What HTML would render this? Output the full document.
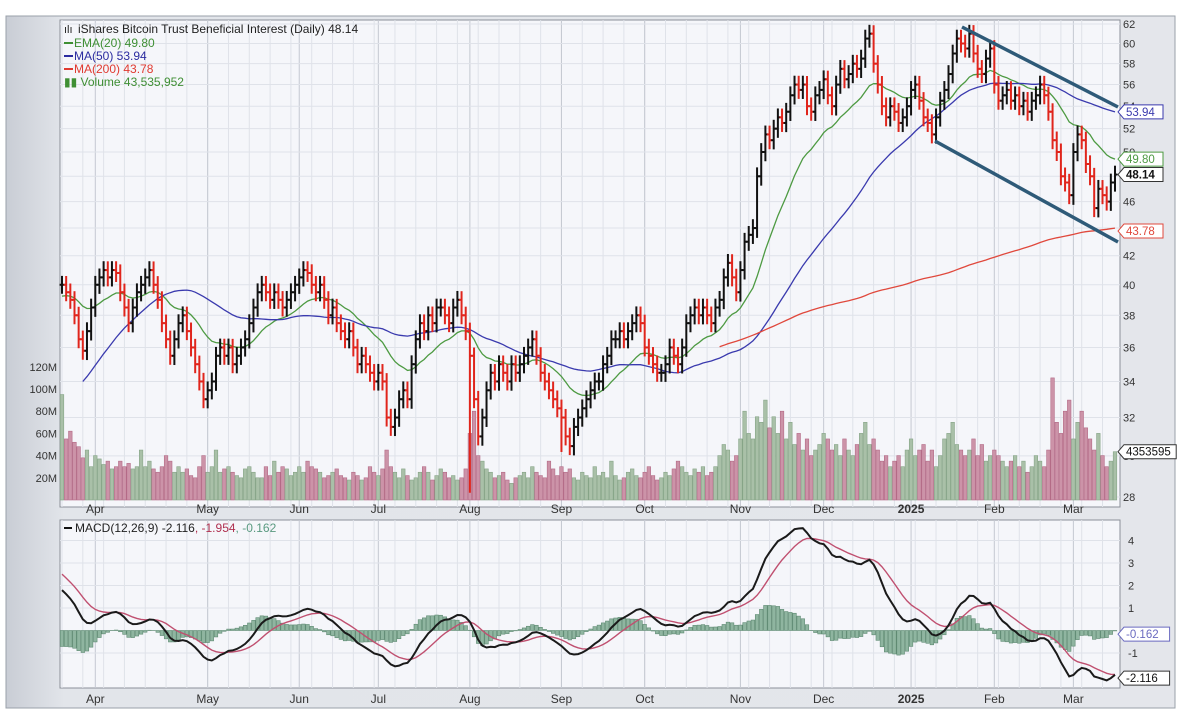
<!DOCTYPE html>
<html><head><meta charset="utf-8"><style>
html,body{margin:0;padding:0;background:#fff;}
svg{display:block;font-family:"Liberation Sans",sans-serif;}
</style></head><body>
<svg id="chart" width="1184" height="724" viewBox="0 0 1184 724" xmlns="http://www.w3.org/2000/svg">
<defs>
<linearGradient id="bg" x1="0" y1="0" x2="1" y2="0"><stop offset="0" stop-color="#c9cdd5"/><stop offset="0.05" stop-color="#e2e5ea"/><stop offset="1" stop-color="#e4e6eb"/></linearGradient>
</defs>
<rect x="6" y="16" width="1169" height="692" fill="url(#bg)" stroke="#9aa0aa"/>
<rect x="60" y="20" width="1060" height="487" fill="#f5f6fa" stroke="#8c9099"/>
<rect x="60" y="520" width="1060" height="168" fill="#f5f6fa" stroke="#8c9099"/>
<g id="grid"></g><g id="vol"></g><g id="lines"></g><g id="bars"></g><g id="macd"></g><g id="axes"></g>
<line x1="962" y1="27" x2="1118" y2="107" stroke="#2e5a78" stroke-width="3.5"/>
<line x1="935" y1="141" x2="1118" y2="242" stroke="#2e5a78" stroke-width="3.5"/>
<g font-size="12">
<text x="78" y="33" fill="#222">iShares Bitcoin Trust Beneficial Interest (Daily) 48.14</text>
<text x="64" y="33" fill="#222" font-size="11">ılı</text>
<rect x="64" y="42" width="9" height="2" fill="#3f8f34"/>
<text x="74" y="47" fill="#3f8f34">EMA(20) 49.80</text>
<rect x="64" y="55" width="9" height="2" fill="#2b2ba0"/>
<text x="74" y="60" fill="#2b2ba0">MA(50) 53.94</text>
<rect x="64" y="68" width="9" height="2" fill="#e03a30"/>
<text x="74" y="73" fill="#e03a30">MA(200) 43.78</text>
<text x="64" y="86" fill="#3f8f34">▮▮ Volume 43,535,952</text>
</g>
<g font-size="12">
<rect x="64" y="527" width="8" height="2" fill="#111"/>
<text x="75" y="532" fill="#222">MACD(12,26,9) -2.116<tspan fill="#b03050">, -1.954</tspan><tspan fill="#5a9a80">, -0.162</tspan></text>
</g>
</svg>
<script>
const priorCloses=[27,26,25,24,23,22.5,23,23.5,24,24.5,24.5,24,24.5,24,24.5,26,27,28,28.5,29,29.5,29,29.5,30,30.5,32,35,37,36.5,38,40,41,40.5,42,42.5,44,45,44.5,44,43,41,39.5,38,39.5,38,39.5,41,40.5];
const closes=[40,39.5,39,38,36.5,35.8,37,38.5,
40,40.5,41,40.5,41,40.8,39.5,38.5,37.5,38.5,39.5,40,40.5,41,40,39,37.5,36.5,35.5,36.5,37.5,38,37,36,35,34,33,
33.5,34,35.5,36,35.5,36,35,35.5,36,36.5,37.5,38.5,39.5,40,39.5,39,39.5,39,38.5,39,39.5,40,
40.5,41,40.8,40,39.5,40,39,38,38.5,37.5,37,36.5,37,36,35,35.5,35,34.5,34,
34.5,34,32,31.5,32,33,33.5,33,35,36.5,37.5,37,38,37.5,38.5,38.5,38,37.5,38.5,39,38,37,
35.5,33,31,32,33.5,34.5,34,35,34.5,34,35,34.5,35,35.5,36,36.5,35.5,34.5,34,33.5,33,32.5,
32,31,30.5,31.5,32,32.5,33,33.5,34,34,35,35.5,36.5,36.5,37,36.5,37,37.5,38,37.5,
36,35.5,35,34.5,34.5,35,36,35.5,35,36,37.5,38,38.5,38,38.5,38,37.5,38.5,39,40.5,41.5,40.5,39.5,
41,43,43.5,44,48,50,51.5,51,52,53,52.5,53.5,55,56,55.5,56,54,53.5,55,55.5,
56.5,55,54,56,57.5,56.5,57,58,57.5,58.5,60.5,61,58,56,54,53,54,53.5,52.5,53,54,
55.5,56,54.5,53,52.5,51.5,53,54.5,55.5,57,59,60.5,60,59.5,61,59,57.5,57,58.5,59.5,
56,54.5,55,55.5,54.5,55,54,54.5,53.5,54.5,55,56,55,53.5,51,50,48,47.5,46.5,
50,51.5,51,49,48,45.5,47,46.5,46,47.5,48.14];
const volumes=[95,55,62,52,48,38,45,30,
40,37,32,35,28,30,35,30,33,28,30,45,30,35,28,25,30,40,35,25,30,25,28,22,20,30,40,
25,30,45,25,28,30,25,22,20,28,30,25,20,20,30,22,35,25,30,28,22,25,
30,25,35,30,28,25,20,22,25,28,22,20,18,25,22,18,20,30,25,
22,28,45,30,25,20,28,22,18,20,25,30,25,18,22,28,25,20,22,18,20,28,
60,80,40,35,28,25,20,22,25,18,15,20,22,25,20,30,25,22,20,35,28,22,
30,25,28,20,18,25,22,20,30,22,25,20,35,22,18,20,25,28,22,20,
25,30,22,18,20,25,22,28,35,30,25,22,28,25,30,22,25,30,40,50,45,35,40,
55,80,60,55,75,70,90,65,75,60,80,55,70,50,60,45,55,40,45,50,
60,55,45,50,40,55,45,40,50,60,70,50,55,45,35,40,30,35,40,30,45,
55,40,45,50,35,45,30,40,55,60,70,50,45,40,45,55,40,50,35,40,
45,40,35,30,35,40,30,35,25,30,40,35,30,45,110,70,60,80,90,
55,70,80,65,55,45,60,40,30,35,43.5];
const monthLabels=["Apr","May","Jun","Jul","Aug","Sep","Oct","Nov","Dec","2025","Feb","Mar"];
const monthStartIdx=[8,35,57,76,98,120,140,163,183,204,224,243];
const spikeLowIdx=[98,120];
const spikeLowVal=[28.2,30.2];
const priceTicks=[28,30,32,34,36,38,40,42,44,46,48,50,52,54,56,58,60,62];
const priceTickLabels=["28","30","32","34","36","38","40","42","44","46","48","50","52","54","56","58","60","62"];
const volTicks=[20,40,60,80,100,120];
const volTickLabels=["20M","40M","60M","80M","100M","120M"];
const macdTicks=[-1,1,2,3,4];
const macdTickLabels=["-1","1","2","3","4"];

const NS="http://www.w3.org/2000/svg";
const N=closes.length;
const X0=62,X1=1115;
const xi=i=>X0+i*(X1-X0)/(N-1);
const yP=p=>24+595*Math.log(62/p);
const yV=v=>500-v*1.11;
const yM=m=>630.5-m*22.5;
function mk(tag,parent,attrs){const e=document.createElementNS(NS,tag);for(const k in attrs)e.setAttribute(k,attrs[k]);document.getElementById(parent).appendChild(e);return e;}

for(let i=0;i<N;i+=5){
 const g=mk('line','grid',{x1:xi(i),x2:xi(i),y1:20,y2:507,stroke:'#dfe2e9','stroke-width':1});
 
 
 const g2=mk('line','grid',{x1:xi(i),x2:xi(i),y1:520,y2:688,stroke:'#dfe2e9','stroke-width':1});
 
 
}
monthStartIdx.forEach((idx,k)=>{
 const x=xi(idx);
 const l=mk('line','grid',{x1:x,x2:x,y1:20,y2:507,stroke:'#c4c8d1','stroke-width':1});
 
 
 const l2=mk('line','grid',{x1:x,x2:x,y1:520,y2:688,stroke:'#c4c8d1','stroke-width':1});
 
 
 [513,703].forEach(yy=>{
  const t=mk('text','axes',{x:x,y:yy,'font-size':12,'text-anchor':'middle',fill:'#333','font-weight':monthLabels[k]==='2025'?'bold':'normal'});
  t.textContent=monthLabels[k];
  
  
 });
});
priceTicks.forEach((p,k)=>{
 const y=yP(p);
 const l=mk('line','grid',{x1:60,x2:1120,y1:y,y2:y,stroke:'#dfe2e9'});
 
 
 const t=mk('text','axes',{x:1123,y:y+4,'font-size':11,fill:'#333'});
 t.textContent=priceTickLabels[k];
 
 
});
volTicks.forEach((v,k)=>{
 const t=mk('text','axes',{x:57,y:yV(v)+4,'font-size':11,fill:'#333','text-anchor':'end'});
 t.textContent=volTickLabels[k];
 
 
});
macdTicks.forEach((m,k)=>{
 const l=mk('line','grid',{x1:60,x2:1120,y1:yM(m),y2:yM(m),stroke:'#dfe2e9'});
 
 
 const t=mk('text','axes',{x:1128,y:yM(m)+4,'font-size':11,fill:'#333'});
 t.textContent=macdTickLabels[k];
 
 
});

const bw=(X1-X0)/(N-1);
for(let i=0;i<N;i++){
 const up=i===0?true:closes[i]>=closes[i-1];
 const y=yV(volumes[i]);
 const r=mk('rect','vol',{x:xi(i)-bw/2+0.3,y:y,width:bw-0.6,height:500-y,fill:up?'#a9c0a8':'#cc93a8',stroke:up?'#86a487':'#b36a86','stroke-width':0.6});
 
 
}

const all=priorCloses.concat(closes);const P=priorCloses.length;
function ema(arr,n){const k=2/(n+1);const out=[];let e=arr[0];arr.forEach((v,i)=>{e=i===0?v:v*k+e*(1-k);out.push(e);});return out;}
function sma(arr,n){return arr.map((v,i)=>{const s=Math.max(0,i-n+1);let t=0;for(let j=s;j<=i;j++)t+=arr[j];return t/(i-s+1);});}
const e20=ema(all,20),m50=sma(all,50),m200=sma(all,200);
function path(vals,start,yf){let d='';for(let i=start;i<N;i++){d+=(i===start?'M':'L')+xi(i).toFixed(1)+','+yf(vals[i+P]).toFixed(1);}return d;}
const pe=mk('path','lines',{d:path(e20,0,yP),fill:'none',stroke:'#4d9a42','stroke-width':1.3});


const p50=mk('path','lines',{d:path(m50,5,yP),fill:'none',stroke:'#3a3aae','stroke-width':1.3});


const p200=mk('path','lines',{d:path(m200,158,yP),fill:'none',stroke:'#e0483c','stroke-width':1.3});



for(let i=0;i<N;i++){
 const c=closes[i],o=i===0?c:closes[i-1];
 const up=c>=o;
 let hi=Math.max(o,c)+0.015*c,lo=Math.min(o,c)-0.015*c;
 const si=spikeLowIdx.indexOf(i);if(si>=0)lo=spikeLowVal[si];
 const x=xi(i),col=up?'#111':'#e0251c';
 const g=document.createElementNS(NS,'g');
 
 
 g.setAttribute('stroke',col);g.setAttribute('stroke-width','2');
 document.getElementById('bars').appendChild(g);
 [[x,yP(hi),x,yP(lo)],[x-2.5,yP(o),x,yP(o)],[x,yP(c),x+2.5,yP(c)]].forEach(a=>{const l=document.createElementNS(NS,'line');l.setAttribute('x1',a[0]);l.setAttribute('y1',a[1]);l.setAttribute('x2',a[2]);l.setAttribute('y2',a[3]);g.appendChild(l);});
}

const e12=ema(all,12),e26=ema(all,26);
const macd=e12.map((v,i)=>v-e26[i]);
const sig=ema(macd,9);
for(let i=0;i<N;i++){
 const h=macd[i+P]-sig[i+P];
 const y0=yM(0),y1=yM(h);
 const r=mk('rect','macd',{x:xi(i)-bw/2+0.3,y:Math.min(y0,y1),width:bw-0.6,height:Math.abs(y1-y0),fill:'#8fb5a0',stroke:'#5e8a72','stroke-width':0.6});
 
 
}
const ps=mk('path','macd',{d:path(sig,0,yM),fill:'none',stroke:'#c05070','stroke-width':1.4});


const pm=mk('path','macd',{d:path(macd,0,yM),fill:'none',stroke:'#1a1a1a','stroke-width':2});



function tag(y,txt,col,name,bold){
 const g=document.createElementNS(NS,'g');
 
 
 document.getElementById('axes').appendChild(g);
 const w=txt.length*6.6+6;
 const p=document.createElementNS(NS,'path');
 p.setAttribute('d',`M1118,${y} L1124,${y-7} L${1124+w},${y-7} L${1124+w},${y+7} L1124,${y+7} Z`);
 p.setAttribute('fill','#fff');p.setAttribute('stroke',col);
 g.appendChild(p);
 const t=document.createElementNS(NS,'text');
 t.setAttribute('x',1126);t.setAttribute('y',y+4);t.setAttribute('font-size','11.5');t.setAttribute('fill',col==='#333'?'#111':col);
 if(bold)t.setAttribute('font-weight','bold');
 t.textContent=txt;g.appendChild(t);
}
tag(yP(m50[N-1+P]),'53.94','#3a3aae','ma50-value-tag');
tag(yP(e20[N-1+P]),'49.80','#4d9a42','ema20-value-tag');
tag(yP(closes[N-1]),'48.14','#333','close-value-tag',true);
tag(yP(43.78),'43.78','#e0483c','ma200-value-tag');
tag(yV(volumes[N-1]),'4353595','#333','volume-value-tag');
tag(yM(-0.162),'-0.162','#6a6ac0','histogram-value-tag');
tag(yM(-2.116),'-2.116','#333','macd-value-tag');
</script>
</body></html>
